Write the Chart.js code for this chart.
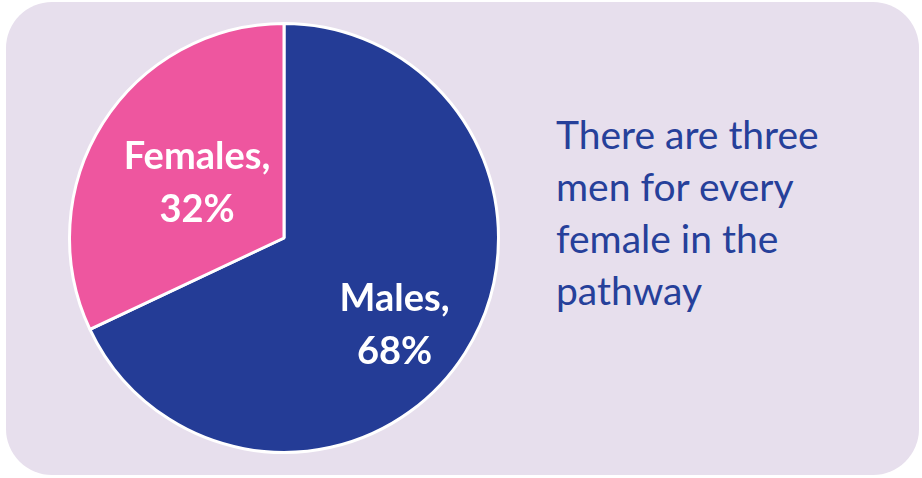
<!DOCTYPE html>
<html>
<head>
<meta charset="utf-8">
<script src="https://cdn.jsdelivr.net/npm/chart.js@4"></script>
<style>
  html, body { margin: 0; padding: 0; background: #ffffff; }
  #card {
    position: absolute; left: 6px; top: 2px; width: 913px; height: 473px;
    background: #e7dfed; border-radius: 46px;
  }
  #wrap { position: absolute; left: 60px; top: 16px; width: 448px; height: 444px; }
  #note {
    position: absolute; left: 556px; top: 108px; width: 340px;
    font-family: Lato, sans-serif; font-size: 39px; line-height: 52px;
    color: #26409a;
  }
</style>
</head>
<body>
<div id="card"></div>
<div id="wrap"><canvas id="pie"></canvas></div>
<div id="note">There are three men for every female in the pathway</div>
<script>
const labels = ["Males", "Females"];
const values = [68, 32];
const colors = ["#243c96", "#ee569f"];
// label placement inside each slice (fraction of radius, extra turn in radians)
const labelDist = [0.655, 0.48];
const labelTurn = [0.1, 0];

const sliceLabels = {
  id: "sliceLabels",
  afterDatasetsDraw(chart) {
    const c = chart.ctx;
    const meta = chart.getDatasetMeta(0);
    c.save();
    c.fillStyle = "#ffffff";
    c.font = "bold 38px Lato, sans-serif";
    c.textAlign = "center";
    c.textBaseline = "middle";
    meta.data.forEach((arc, i) => {
      const mid = (arc.startAngle + arc.endAngle) / 2 + labelTurn[i];
      const r = arc.outerRadius * labelDist[i];
      const x = arc.x + Math.cos(mid) * r;
      const y = arc.y + Math.sin(mid) * r;
      c.fillText(labels[i] + ",", x, y - 26);
      c.fillText(values[i] + "%", x, y + 27);
    });
    c.restore();
  }
};

const ctx = document.getElementById("pie").getContext("2d");
const myChart = new Chart(ctx, {
  type: "pie",
  data: {
    labels: labels,
    datasets: [{
      data: values,
      backgroundColor: colors,
      borderColor: "#ffffff",
      borderWidth: 3,
    }],
  },
  options: {
    responsive: true,
    maintainAspectRatio: false,
    animation: false,
    layout: { padding: 6 },
    plugins: { legend: { display: false }, tooltip: { enabled: false } },
  },
  plugins: [sliceLabels],
});
</script>
</body>
</html>
